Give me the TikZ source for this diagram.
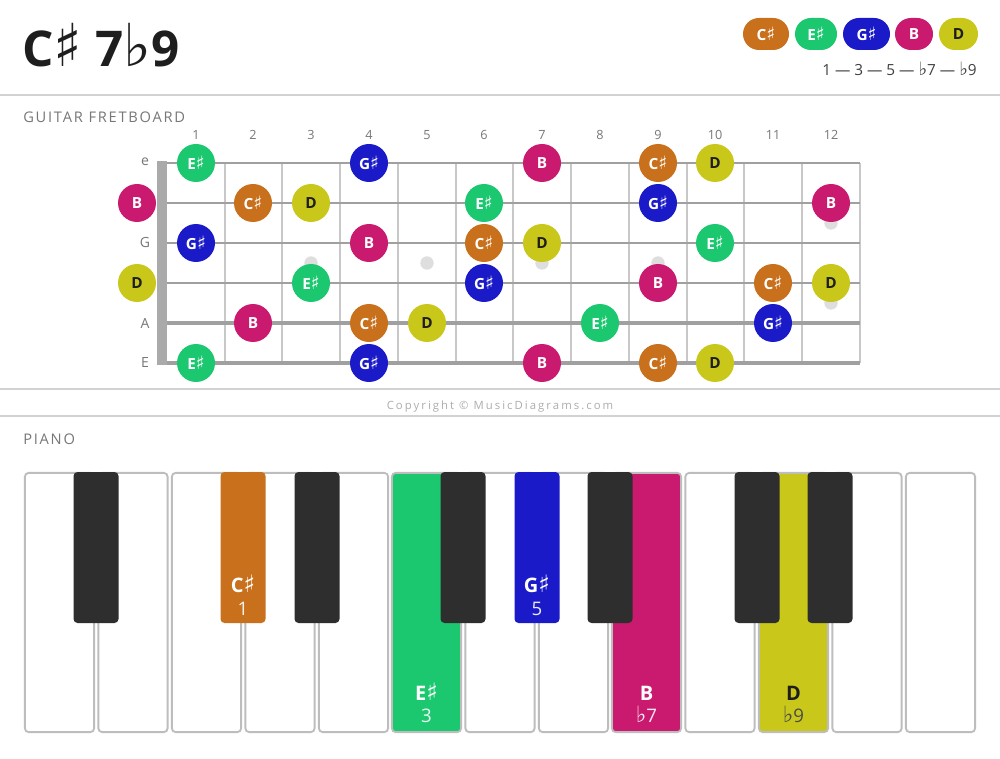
\documentclass[tikz,border=0pt]{standalone}
\usepackage{fontspec}
\setmainfont{Open Sans}
\newfontfamily\symfont[Scale=1.2]{DejaVu Sans}
\newfontfamily\spacedfont[LetterSpace=12]{Open Sans}
\newfontfamily\widefont[LetterSpace=18]{Open Sans}
\newcommand{\shp}{{\symfont\mdseries ♯}}
\newcommand{\flt}{{\symfont\mdseries ♭}}
\definecolor{cscol}{HTML}{C8701B}
\definecolor{escol}{HTML}{1CC86F}
\definecolor{gscol}{HTML}{1A1AC8}
\definecolor{bcol}{HTML}{C91A6F}
\definecolor{dcol}{HTML}{C9C81A}
\definecolor{inkcol}{HTML}{1E1E1E}
\definecolor{greytext}{HTML}{777777}
\definecolor{rulecol}{HTML}{D2D2D2}
\definecolor{stringcol}{HTML}{A0A0A0}
\definecolor{fretcol}{HTML}{C8C8C8}
\definecolor{dotcol}{HTML}{DEDEDE}
\definecolor{nutcol}{HTML}{AAAAAA}
\definecolor{keyline}{HTML}{BDBDBD}
\definecolor{blackkey}{HTML}{2E2E2E}

\begin{document}
\begin{tikzpicture}
        [x=0.75pt, y=-0.75pt, every node/.style={inner sep=0},
        note/.style={circle, minimum size=28.5pt, text=white, font=\bfseries\fontsize{11.5}{12}\selectfont},
        noteC/.style={note, fill=cscol}, noteE/.style={note, fill=escol}, noteG/.style={note, fill=gscol},
        noteB/.style={note, fill=bcol}, noteD/.style={note, fill=dcol, text=inkcol},
        pill/.style={rectangle, rounded corners=12pt, minimum height=24pt, text=white, font=\bfseries\fontsize{11.5}{12}\selectfont},
        fretnum/.style={anchor=base, text=greytext, font=\fontsize{9.5}{10}\selectfont},
        strname/.style={text=greytext, font=\fontsize{10.5}{11}\selectfont},
        fret/.style={draw=fretcol, line width=1.1pt},
        strg/.style={draw=stringcol},
        inlay/.style={circle, fill=dotcol, minimum size=10pt},
        wkey/.style={rectangle, draw=keyline, line width=1.4pt, fill=white, rounded corners=3pt, minimum width=52pt, minimum height=194.5pt},
        bkey/.style={rectangle, fill=blackkey, rounded corners=3pt, minimum width=33.75pt, minimum height=113.25pt},
        keyname/.style={anchor=base, font=\bfseries\fontsize{15}{15}\selectfont},
        keydeg/.style={anchor=base, font=\fontsize{14}{14}\selectfont},
        heading/.style={anchor=base west, text=greytext, font=\spacedfont\fontsize{11}{11}\selectfont}]

        \useasboundingbox[fill=white] (0,0) rectangle (1000,759);

        % header
        \node[anchor=base west, text=inkcol, font=\bfseries\fontsize{37}{37}\selectfont] (title) at (22,67) {C\shp{} 7\flt9};
        \node[pill, fill=cscol, minimum width=34.5pt] (legC) at (766,34) {C\shp};
        \node[pill, fill=escol, minimum width=31.5pt] (legE) at (816,34) {E\shp};
        \node[pill, fill=gscol, minimum width=35.25pt] (legG) at (866.5,34) {G\shp};
        \node[pill, fill=bcol, minimum width=28.5pt] (legB) at (914,34) {B};
        \node[pill, fill=dcol, minimum width=29.25pt, text=inkcol] (legD) at (958.5,34) {D};
        \node[anchor=base east, text=inkcol!85, font=\fontsize{11.5}{12}\selectfont] (formula) at (977,76) {1 — 3 — 5 — \flt7 — \flt9};
        \draw[rulecol, line width=1.6pt] (0,95) -- (1000,95);

        % fretboard
        \node[heading] (guitar) at (23,123) {GUITAR FRETBOARD};

        \node[fretnum] (f1) at (196,140) {1};
        \node[fretnum] (f2) at (253,140) {2};
        \node[fretnum] (f3) at (311,140) {3};
        \node[fretnum] (f4) at (369,140) {4};
        \node[fretnum] (f5) at (427,140) {5};
        \node[fretnum] (f6) at (484,140) {6};
        \node[fretnum] (f7) at (542,140) {7};
        \node[fretnum] (f8) at (600,140) {8};
        \node[fretnum] (f9) at (658,140) {9};
        \node[fretnum] (f10) at (715,140) {10};
        \node[fretnum] (f11) at (773,140) {11};
        \node[fretnum] (f12) at (831,140) {12};

        \node[strname] (se) at (145,162) {e};
        \node[strname] (sG) at (145,243) {G};
        \node[strname] (sA) at (145,323) {A};
        \node[strname] (sE) at (145,363) {E};

        \draw[fret] (225,163) -- (225,363);
        \draw[fret] (282,163) -- (282,363);
        \draw[fret] (340,163) -- (340,363);
        \draw[fret] (398,163) -- (398,363);
        \draw[fret] (456,163) -- (456,363);
        \draw[fret] (513,163) -- (513,363);
        \draw[fret] (571,163) -- (571,363);
        \draw[fret] (629,163) -- (629,363);
        \draw[fret] (687,163) -- (687,363);
        \draw[fret] (744,163) -- (744,363);
        \draw[fret] (802,163) -- (802,363);
        \draw[fret] (860,163) -- (860,363);

        \node[inlay] (dot3) at (311,263) {};
        \node[inlay] (dot5) at (427,263) {};
        \node[inlay] (dot7) at (542,263) {};
        \node[inlay] (dot9) at (658,263) {};
        \node[inlay] (dot12a) at (831,223) {};
        \node[inlay] (dot12b) at (831,303) {};

        \draw[strg, line width=1.5pt] (157,163) -- (860,163);
        \draw[strg, line width=1.7pt] (157,203) -- (860,203);
        \draw[strg, line width=1.9pt] (157,243) -- (860,243);
        \draw[strg, line width=2.1pt] (157,283) -- (860,283);
        \draw[strg, line width=2.3pt] (157,323) -- (860,323);
        \draw[strg, line width=2.5pt] (157,363) -- (860,363);
        \fill[nutcol] (157,161) rectangle (167,365);

        % e string
        \node[noteE] (e1) at (196,163) {E\shp};
        \node[noteG] (e4) at (369,163) {G\shp};
        \node[noteB] (e7) at (542,163) {B};
        \node[noteC] (e9) at (658,163) {C\shp};
        \node[noteD] (e10) at (715,163) {D};
        % B string
        \node[noteB] (b0) at (137,203) {B};
        \node[noteC] (b2) at (253,203) {C\shp};
        \node[noteD] (b3) at (311,203) {D};
        \node[noteE] (b6) at (484,203) {E\shp};
        \node[noteG] (b9) at (658,203) {G\shp};
        \node[noteB] (b12) at (831,203) {B};
        % G string
        \node[noteG] (g1) at (196,243) {G\shp};
        \node[noteB] (g4) at (369,243) {B};
        \node[noteC] (g6) at (484,243) {C\shp};
        \node[noteD] (g7) at (542,243) {D};
        \node[noteE] (g10) at (715,243) {E\shp};
        % D string
        \node[noteD] (d0) at (137,283) {D};
        \node[noteE] (d3) at (311,283) {E\shp};
        \node[noteG] (d6) at (484,283) {G\shp};
        \node[noteB] (d9) at (658,283) {B};
        \node[noteC] (d11) at (773,283) {C\shp};
        \node[noteD] (d12) at (831,283) {D};
        % A string
        \node[noteB] (a2) at (253,323) {B};
        \node[noteC] (a4) at (369,323) {C\shp};
        \node[noteD] (a5) at (427,323) {D};
        \node[noteE] (a8) at (600,323) {E\shp};
        \node[noteG] (a11) at (773,323) {G\shp};
        % low E string
        \node[noteE] (E1) at (196,363) {E\shp};
        \node[noteG] (E4) at (369,363) {G\shp};
        \node[noteB] (E7) at (542,363) {B};
        \node[noteC] (E9) at (658,363) {C\shp};
        \node[noteD] (E10) at (715,363) {D};

        \draw[rulecol, line width=1.6pt] (0,389) -- (1000,389);
        \node[anchor=base, text=black!32, font=\widefont\fontsize{8.5}{9}\selectfont] (copy) at (500,410) {Copyright © MusicDiagrams.com};
        \draw[rulecol, line width=1.6pt] (0,416) -- (1000,416);

        % piano
        \node[heading] (piano) at (23,445) {PIANO};

        \node[wkey] (k1) at (59.5,602.5) {};
        \node[wkey] (k2) at (133,602.5) {};
        \node[wkey] (k3) at (206.5,602.5) {};
        \node[wkey] (k4) at (280,602.5) {};
        \node[wkey] (k5) at (353.5,602.5) {};
        \node[wkey, fill=escol] (k6) at (426.5,602.5) {};
        \node[wkey] (k7) at (500,602.5) {};
        \node[wkey] (k8) at (573.5,602.5) {};
        \node[wkey, fill=bcol] (k9) at (646.5,602.5) {};
        \node[wkey] (k10) at (720,602.5) {};
        \node[wkey, fill=dcol] (k11) at (793.5,602.5) {};
        \node[wkey] (k12) at (867,602.5) {};
        \node[wkey] (k13) at (940.5,602.5) {};

        \node[bkey] (bk1) at (96,547.5) {};
        \node[bkey, fill=cscol] (bk2) at (243,547.5) {};
        \node[bkey] (bk3) at (317,547.5) {};
        \node[bkey] (bk4) at (463,547.5) {};
        \node[bkey, fill=gscol] (bk5) at (537,547.5) {};
        \node[bkey] (bk6) at (610,547.5) {};
        \node[bkey] (bk7) at (757,547.5) {};
        \node[bkey] (bk8) at (830,547.5) {};

        \node[keyname, text=white] (nC) at (243,592) {C\shp};
        \node[keydeg, text=white!90!cscol] (dC) at (243,615) {1};
        \node[keyname, text=white] (nG) at (537,592) {G\shp};
        \node[keydeg, text=white!90!gscol] (dG) at (537,615) {5};
        \node[keyname, text=white] (nE) at (426.5,700) {E\shp};
        \node[keydeg, text=white!90!escol] (dE) at (426.5,722) {3};
        \node[keyname, text=white] (nB) at (646.5,700) {B};
        \node[keydeg, text=white!90!bcol] (dB) at (646.5,722) {\flt7};
        \node[keyname, text=inkcol] (nD) at (793.5,700) {D};
        \node[keydeg, text=inkcol!80] (dD) at (793.5,722) {\flt9};

      \end{tikzpicture}
\end{document}
